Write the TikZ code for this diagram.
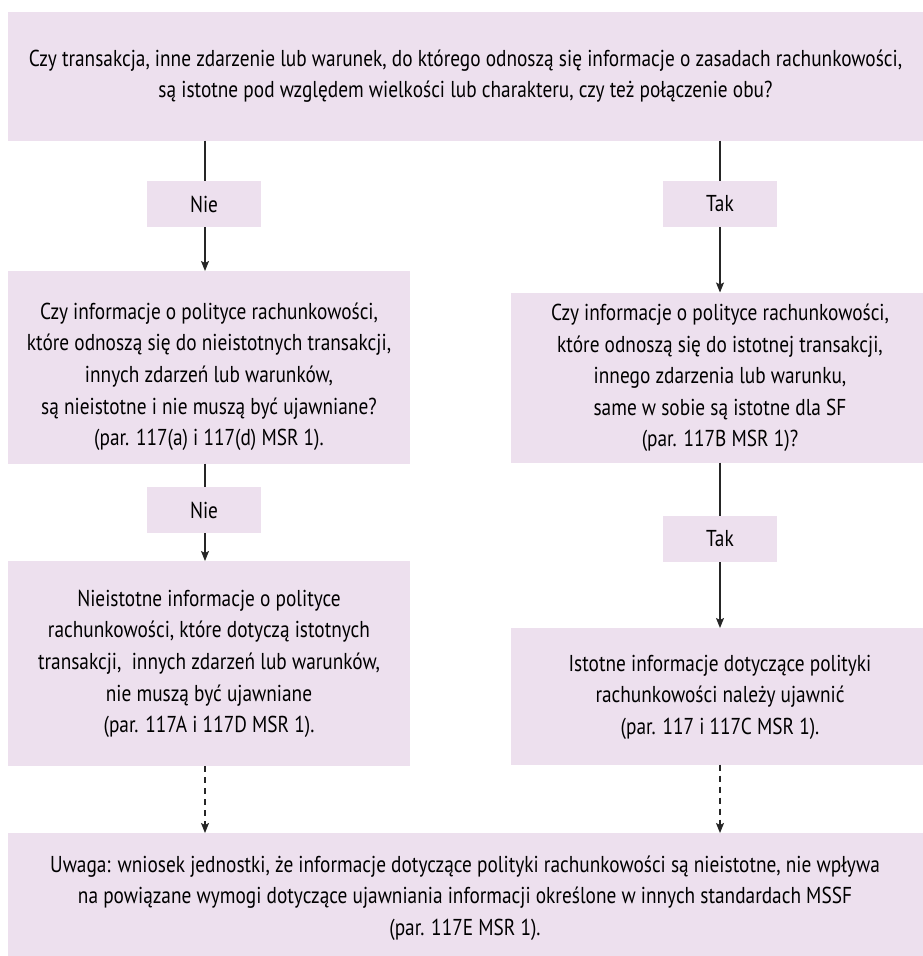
\documentclass[tikz,border=0pt]{standalone}
\usepackage{fontspec}
\setmainfont[FakeStretch=0.84]{PT Sans}
\usetikzlibrary{arrows.meta,positioning}
\definecolor{lilac}{RGB}{237,224,238}
\tikzset{
  box/.style={fill=lilac, draw=none, inner sep=0pt, outer sep=0pt},
  txt/.style={align=center, inner sep=0pt, font=\fontsize{23pt}{31.6pt}\selectfont, text=black},
  conn/.style={line width=1.2pt, draw=black!85},
  arr/.style={conn, -{Stealth[width=8pt,length=10pt,inset=2pt]}},
  darr/.style={arr, dash pattern=on 6pt off 5pt}
}
\begin{document}
\begin{tikzpicture}[x=1pt,y=-1pt]
\useasboundingbox (0,0) rectangle (923,956);
% boxes
\node[box, anchor=north west, minimum width=915pt, minimum height=128.7pt] (top) at (8,12) {};
\node[box, anchor=north west, minimum width=114pt, minimum height=46pt] (nie1) at (147,181) {};
\node[box, anchor=north west, minimum width=402pt, minimum height=192.5pt] (L2) at (8,271) {};
\node[box, anchor=north west, minimum width=114pt, minimum height=46pt] (nie2) at (147,487) {};
\node[box, anchor=north west, minimum width=402pt, minimum height=205pt] (L3) at (8,561) {};
\node[box, anchor=north west, minimum width=114pt, minimum height=46pt] (tak1) at (663,181) {};
\node[box, anchor=north west, minimum width=412pt, minimum height=170pt] (R2) at (511,292.5) {};
\node[box, anchor=north west, minimum width=114pt, minimum height=46pt] (tak2) at (663,516) {};
\node[box, anchor=north west, minimum width=412pt, minimum height=136.5pt] (R3) at (511,628) {};
\node[box, anchor=north west, minimum width=915pt, minimum height=123pt] (bot) at (8,833) {};
% texts
\node[txt] (ttop) at (top.center) {Czy transakcja, inne zdarzenie lub warunek, do którego odnoszą się informacje o zasadach rachunkowości,\\są istotne pod względem wielkości lub charakteru, czy też połączenie obu?};
\node[txt] (tnie1) at (204,204) {Nie};
\node[txt] (tL2) at (209,376.7) {Czy informacje o polityce rachunkowości,\\które odnoszą się do nieistotnych transakcji,\\innych zdarzeń lub warunków,\\są nieistotne i nie muszą być ujawniane?\\(par. 117(a) i 117(d) MSR 1).};
\node[txt] (tnie2) at (204,510) {Nie};
\node[txt] (tL3) at (209,663.8) {Nieistotne informacje o polityce\\rachunkowości, które dotyczą istotnych\\transakcji,\ \ innych zdarzeń lub warunków,\\nie muszą być ujawniane\\(par. 117A i 117D MSR 1).};
\node[txt] (ttak1) at (720,204) {Tak};
\node[txt] (tR2) at (720,378) {Czy informacje o polityce rachunkowości,\\które odnoszą się do istotnej transakcji,\\innego zdarzenia lub warunku,\\same w sobie są istotne dla SF\\(par. 117B MSR 1)?};
\node[txt] (ttak2) at (720,539) {Tak};
\node[txt] (tR3) at (720,697) {Istotne informacje dotyczące polityki\\rachunkowości należy ujawnić\\(par. 117 i 117C MSR 1).};
\node[txt] (tbot) at (465,898) {Uwaga: wniosek jednostki, że informacje dotyczące polityki rachunkowości są nieistotne, nie wpływa\\na powiązane wymogi dotyczące ujawniania informacji określone w innych standardach MSSF\\(par. 117E MSR 1).};
% connectors
\draw[conn] (top.south -| 205,0) -- (nie1.north -| 205,0);
\draw[arr] (nie1.south -| 205,0) -- (L2.north -| 205,0);
\draw[conn] (L2.south -| 205,0) -- (nie2.north -| 205,0);
\draw[arr] (nie2.south -| 205,0) -- (L3.north -| 205,0);
\draw[darr] (L3.south -| 205,0) -- (bot.north -| 205,0);
\draw[conn] (top.south -| tak1.north) -- (tak1.north);
\draw[arr] (tak1.south) -- (tak1.south |- R2.north);
\draw[conn] (tak1.south |- R2.south) -- (tak2.north);
\draw[arr] (tak2.south) -- (tak2.south |- R3.north);
\draw[darr] (tak2.south |- R3.south) -- (tak2.south |- bot.north);
\end{tikzpicture}
\end{document}
